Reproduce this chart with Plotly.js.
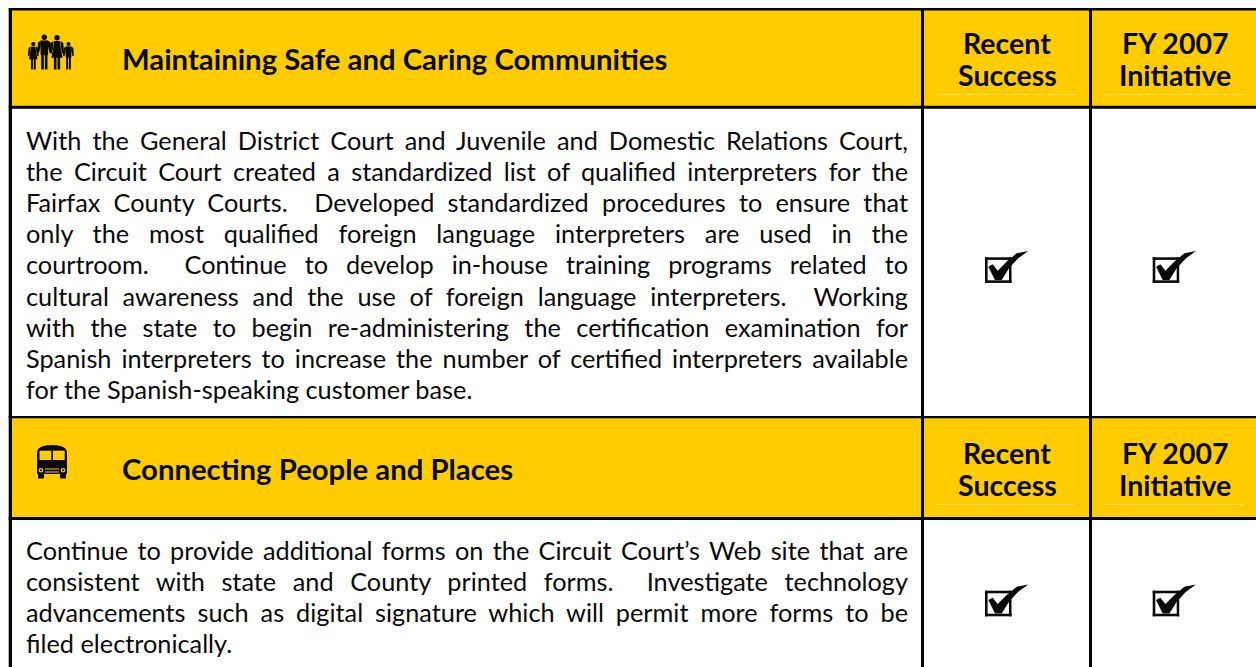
<!DOCTYPE html>
<html><head><meta charset="utf-8">
<script src="https://cdn.plot.ly/plotly-3.0.1.min.js"></script>
<style>html,body{margin:0;padding:0;background:#fff}#c{width:1256px;height:667px}
.annotation-text{font-variant-ligatures:no-common-ligatures no-discretionary-ligatures}</style></head>
<body><div id="c"></div>
<script>
// ---- content ----
var sectionTitles = ["Maintaining Safe and Caring Communities", "Connecting People and Places"];
var columnHeads = [["Recent", "Success"], ["FY 2007", "Initiative"]];
var bodyOne = [
 "With the General District Court and Juvenile and Domestic Relations Court,",
 "the Circuit Court created a standardized list of qualified interpreters for the",
 "Fairfax County Courts.\u00A0 Developed standardized procedures to ensure that",
 "only the most qualified foreign language interpreters are used in the",
 "courtroom.\u00A0 Continue to develop in-house training programs related to",
 "cultural awareness and the use of foreign language interpreters.\u00A0 Working",
 "with the state to begin re-administering the certification examination for",
 "Spanish interpreters to increase the number of certified interpreters available",
 "for the Spanish-speaking customer base."
];
var bodyTwo = [
 "Continue to provide additional forms on the Circuit Court\u2019s Web site that are",
 "consistent with state and County printed forms.\u00A0 Investigate technology",
 "advancements such as digital signature which will permit more forms to be",
 "filed electronically."
];
var checkedRows = [[true, true], [true, true]];

// ---- layout helpers ----
var YEL = "#FFCC00", INK = "#0a0a0a", FONT = "Lato, 'Open Sans', sans-serif";
var BODY = 25.3, TITLE = 29.3, HEAD = 28.5, BASEFIX = 0.32;
var colCentres = [1007, 1175];
var shapes = [], notes = [], just = [];
function rect(x0,y0,x1,y1,c){shapes.push({type:"rect",xref:"x",yref:"y",x0:x0,y0:y0,x1:x1,y1:y1,fillcolor:c,line:{width:0},layer:"above"});}
function poly(d,c){shapes.push({type:"path",xref:"x",yref:"y",path:d,fillcolor:c,line:{width:0},layer:"above"});}
function disc(cx,cy,r,c){shapes.push({type:"circle",xref:"x",yref:"y",x0:cx-r,x1:cx+r,y0:cy-r,y1:cy+r,fillcolor:c,line:{width:0},layer:"above"});}
function text(t,x,base,size,bold,anchor){
  notes.push({xref:"x",yref:"y",x:x,y:base-size*BASEFIX,text:bold?"<b>"+t+"</b>":t,showarrow:false,
    xanchor:anchor,yanchor:"middle",align:anchor,borderpad:0,borderwidth:0,
    font:{family:FONT,size:size,color:INK}});
}
function person(cx,headY,feetY,scale,dress){
  var s=scale; disc(cx,headY,2.6*s,INK);
  if(dress){
    poly("M"+(cx-2.7*s)+","+(headY+3*s)+" L"+(cx+2.7*s)+","+(headY+3*s)+" L"+(cx+3*s)+","+(headY+7*s)+" L"+(cx+5.4*s)+","+(headY+19*s)+" L"+(cx-5.4*s)+","+(headY+19*s)+" L"+(cx-3*s)+","+(headY+7*s)+" Z",INK);
  } else {
    rect(cx-3.6*s,headY+3*s,cx+3.6*s,headY+17*s,INK);
  }
  rect(cx-3*s,headY+15*s,cx-.5*s,feetY,INK); rect(cx+.5*s,headY+15*s,cx+3*s,feetY,INK);
  poly("M"+(cx-3.4*s)+","+(headY+3*s)+" L"+(cx-6*s)+","+(headY+5*s)+" L"+(cx-6.8*s)+","+(headY+15*s)+" L"+(cx-5*s)+","+(headY+15*s)+" L"+(cx-3.4*s)+","+(headY+8*s)+" Z",INK);
  poly("M"+(cx+3.4*s)+","+(headY+3*s)+" L"+(cx+6*s)+","+(headY+5*s)+" L"+(cx+6.8*s)+","+(headY+15*s)+" L"+(cx+5*s)+","+(headY+15*s)+" L"+(cx+3.4*s)+","+(headY+8*s)+" Z",INK);
}
function bus(){
  poly("M37,453 Q37,445 52,445 Q67,445 67,453 L67,474 L37,474 Z",INK);
  rect(38,474,44,478.5,INK); rect(60,474,66,478.5,INK);
  rect(39.5,450.7,51.3,460,YEL); rect(53,450.7,64.7,460,YEL);
  disc(41,470.3,2.3,YEL); disc(63,470.3,2.3,YEL); disc(41,470.3,1,INK); disc(63,470.3,1,INK);
  rect(45,468.5,59,469.5,YEL); rect(45,471.5,59,472.5,YEL);
}
function checkbox(x,y){
  rect(x,y,x+26.5,y+2.6,INK); rect(x,y+23,x+26.5,y+25.6,INK);
  rect(x,y,x+2.6,y+25.6,INK); rect(x+24,y,x+26.5,y+25.6,INK);
  var p=function(a,b){return (x+a)+","+(y+b);};
  poly("M"+p(3.3,9.4)+" L"+p(7.7,7)+" L"+p(12.7,13.4)+" L"+p(22,4)+" L"+p(31.7,-4)+" L"+p(43.3,-6.3)+" L"+p(33.3,1)+" L"+p(24,11)+" L"+p(16.7,22.7)+" L"+p(10,22.7)+" Z",INK);
}

// ---- page structure ----
rect(10,8,1256,108,YEL);       // header bands
rect(10,417,1256,519,YEL);
var L = "#000";
rect(8.7,8,12,667,L);          // left rule
rect(8.7,8,1256,10.5,L);
rect(8.7,105.7,1256,108.7,L);
rect(8.7,416,1256,418.3,L);
rect(8.7,517,1256,520,L);
rect(921,8,924,667,L);
rect(1089,8,1092,667,L);
[0,410].forEach(function(dy){
  rect(937,94.2+dy,1076,94.9+dy,"#FFE680");
  rect(1105,94.2+dy,1244,94.9+dy,"#FFE680");
});

// icons
person(33.3,44,69.5,0.8,true);
person(44.3,37.3,69.5,1.05,false);
person(57,37.8,69.5,1.05,true);
person(68.5,44,69.5,0.8,false);
bus();

// headings
[[68.3,sectionTitles[0]],[477.7,sectionTitles[1]]].forEach(function(h){text(h[1],122,h[0],TITLE,true,"left");});
[0,410].forEach(function(dy){
  columnHeads.forEach(function(ch,i){
    text(ch[0],colCentres[i],51.7+dy,HEAD,true,"center");
    text(ch[1],colCentres[i],84.3+dy,HEAD,true,"center");
  });
});

// paragraphs
function para(lines,first){
  lines.forEach(function(t,i){
    if(i<lines.length-1) just.push(notes.length);
    text(t,26,first+i*31.2,BODY,false,"left");
  });
}
para(bodyOne,147.7);
para(bodyTwo,557.7);

// ticks
[[0,257.3],[1,590.7]].forEach(function(r){
  checkedRows[r[0]].forEach(function(on,i){ if(on) checkbox(985+i*167.7,r[1]); });
});

var gd=document.getElementById("c");
Plotly.newPlot(gd,[{type:"scatter",x:[0],y:[0],mode:"none",showlegend:false,hoverinfo:"skip"}],{
  width:1256,height:667,margin:{l:0,r:0,t:0,b:0,pad:0},
  paper_bgcolor:"#fff",plot_bgcolor:"#fff",showlegend:false,
  xaxis:{range:[0,1256],visible:false,fixedrange:true},
  yaxis:{range:[667,0],visible:false,fixedrange:true},
  shapes:shapes,annotations:notes
},{displayModeBar:false,staticPlot:true}).then(function(){
  // justify body lines to the column's right edge
  var RIGHT=908;
  just.forEach(function(idx){
    var g=gd.querySelector('.annotation[data-index="'+idx+'"] .annotation-text');
    if(!g) return;
    var n=(g.textContent.match(/[ \u00A0]/g)||[]).length;
    var lft=g.getBoundingClientRect().left;
    var w=g.getComputedTextLength();
    g.style.wordSpacing=((RIGHT-lft-w)/n)+"px";
  });
});
</script></body></html>
